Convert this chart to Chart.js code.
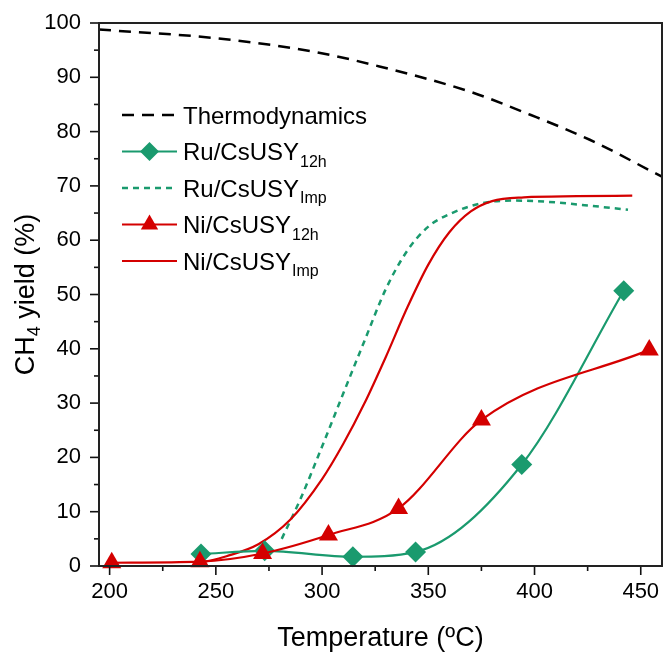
<!DOCTYPE html>
<html>
<head>
<meta charset="utf-8">
<title>CH4 yield vs temperature</title>
<script src="https://cdn.jsdelivr.net/npm/chart.js@4.4.1/dist/chart.umd.min.js"></script>
<style>
  html, body { margin: 0; padding: 0; background: #fff; }
  #wrap { width: 664px; height: 652px; }
</style>
</head>
<body>
<div id="wrap"><canvas id="yieldChart" width="664" height="652"></canvas></div>
<script>
// ===== DATA (temperature in ºC, CH4 yield in %) =====
const thermoT = [195, 250, 296, 327, 370, 398, 426, 457, 460];
const thermoY = [98.8, 97.2, 94.7, 92.0, 87.3, 83.1, 78.5, 72.3, 71.7];

const ru12hT = [243, 273, 314.5, 344, 394, 442];
const ru12hY = [2.2, 2.8, 1.7, 2.6, 18.7, 50.7];

const ruImpT = [281, 290, 300, 310, 320, 330, 340, 350, 360, 375, 390, 405, 425, 444];
const ruImpY = [5.0, 12.5, 22.0, 31.8, 41.5, 51.0, 58.0, 62.5, 64.8, 66.8, 67.3, 67.1, 66.4, 65.6];

const ni12hT = [201, 242.5, 272, 303, 336, 375, 454];
const ni12hY = [0.6, 0.8, 2.3, 5.7, 10.6, 26.9, 39.8];

const niImpT = [242, 255, 270, 285, 300, 310, 320, 330, 340, 350, 360, 370, 380, 395, 420, 446];
const niImpY = [0.5, 1.8, 4.0, 8.5, 16.0, 22.5, 30.0, 38.5, 47.5, 55.5, 61.5, 65.3, 67.2, 67.9, 68.1, 68.2];

const xTickLabels = [200, 250, 300, 350, 400, 450];
const yTickLabels = [0, 10, 20, 30, 40, 50, 60, 70, 80, 90, 100];

const legendNames = ["Thermodynamics", "Ru/CsUSY", "Ru/CsUSY", "Ni/CsUSY", "Ni/CsUSY"];
const legendSubs = ["", "12h", "Imp", "12h", "Imp"];

// ===== STYLE =====
const GREEN = "#1a9a6e";
const RED = "#d40000";
const FONT = '"Liberation Sans", Arial, sans-serif';

const pts = (xs, ys) => xs.map((x, i) => ({ x: x, y: ys[i] }));

// ===== DATASETS =====
const datasets = [
    {
        label: "Thermodynamics",
        data: pts(thermoT, thermoY),
        borderColor: "#000",
        borderWidth: 2.5,
        borderDash: [12, 8],
        pointRadius: 0,
        order: 5
    },
    {
        label: "Ru/CsUSY12h",
        data: pts(ru12hT, ru12hY),
        borderColor: GREEN,
        backgroundColor: GREEN,
        borderWidth: 2.2,
        pointStyle: "rectRot",
        pointRadius: 10.5,
        pointBorderWidth: 0,
        clip: false,
        order: 2
    },
    {
        label: "Ru/CsUSYImp",
        data: pts(ruImpT, ruImpY),
        borderColor: GREEN,
        borderWidth: 2.5,
        borderDash: [6, 5],
        pointRadius: 0,
        order: 4
    },
    {
        label: "Ni/CsUSY12h",
        data: pts(ni12hT, ni12hY),
        borderColor: RED,
        backgroundColor: RED,
        borderWidth: 2.2,
        pointStyle: "triangle",
        pointRadius: 11,
        pointBorderWidth: 0,
        clip: false,
        order: 1
    },
    {
        label: "Ni/CsUSYImp",
        data: pts(niImpT, niImpY),
        borderColor: RED,
        borderWidth: 2.2,
        pointRadius: 0,
        order: 3
    }
];

// ===== AXIS DECORATION: frame, major/minor ticks, x labels, titles, legend =====
const decor = {
    id: "decor",
    afterDraw(chart) {
        const { ctx, chartArea: a, scales: { x, y } } = chart;
        ctx.save();

        // tick marks (outward, left and bottom)
        ctx.strokeStyle = "#111";
        ctx.lineWidth = 1.6;
        for (let v = 0; v <= 100; v += 5) {
            const py = y.getPixelForValue(v);
            const len = yTickLabels.includes(v) ? 9 : 5;
            ctx.beginPath();
            ctx.moveTo(a.left - len, py);
            ctx.lineTo(a.left, py);
            ctx.stroke();
        }
        for (let v = 200; v <= 450; v += 25) {
            const px = x.getPixelForValue(v);
            const len = xTickLabels.includes(v) ? 9 : 5;
            ctx.beginPath();
            ctx.moveTo(px, a.bottom);
            ctx.lineTo(px, a.bottom + len);
            ctx.stroke();
        }

        // plot frame
        ctx.strokeStyle = "#222";
        ctx.lineWidth = 2;
        ctx.strokeRect(a.left, a.top, a.right - a.left, a.bottom - a.top);

        // x tick labels
        ctx.fillStyle = "#000";
        ctx.font = "22px " + FONT;
        ctx.textAlign = "center";
        ctx.textBaseline = "alphabetic";
        xTickLabels.forEach(v => {
            ctx.fillText(String(v), x.getPixelForValue(v), a.bottom + 32);
        });

        // x title
        ctx.font = "27px " + FONT;
        ctx.fillText("Temperature (ºC)", (a.left + a.right) / 2, 646);

        // y title with subscript
        ctx.save();
        ctx.translate(24, (a.top + a.bottom) / 2);
        ctx.rotate(-Math.PI / 2);
        ctx.textAlign = "left";
        ctx.font = "27px " + FONT;
        const wCH = ctx.measureText("CH").width;
        const wRest = ctx.measureText(" yield (%)").width;
        ctx.font = "18px " + FONT;
        const w4 = ctx.measureText("4").width;
        const sx = -(wCH + w4 + wRest) / 2;
        ctx.font = "27px " + FONT;
        ctx.fillText("CH", sx, 9.5);
        ctx.font = "18px " + FONT;
        ctx.fillText("4", sx + wCH, 16);
        ctx.font = "27px " + FONT;
        ctx.fillText(" yield (%)", sx + wCH + w4, 9.5);
        ctx.restore();

        // legend
        const rowY0 = a.top + 92;
        const rowGap = 36.5;
        const lineX0 = a.left + 23, lineX1 = a.left + 78, textX = a.left + 84;
        datasets.forEach((ds, i) => {
            const ry = rowY0 + i * rowGap;
            ctx.save();
            ctx.strokeStyle = ds.borderColor;
            ctx.lineWidth = ds.borderWidth;
            ctx.setLineDash(ds.borderDash || []);
            ctx.beginPath();
            ctx.moveTo(lineX0, ry);
            ctx.lineTo(lineX1, ry);
            ctx.stroke();
            ctx.restore();
            if (ds.pointRadius > 0) {
                ctx.fillStyle = ds.backgroundColor;
                ctx.strokeStyle = ds.backgroundColor;
                Chart.helpers.drawPoint(ctx, {
                    pointStyle: ds.pointStyle,
                    radius: ds.pointRadius - 1,
                    borderWidth: 0,
                    rotation: 0
                }, (lineX0 + lineX1) / 2, ry);
            }
            ctx.fillStyle = "#000";
            ctx.textAlign = "left";
            ctx.font = "24px " + FONT;
            ctx.fillText(legendNames[i], textX, ry + 8.5);
            if (legendSubs[i]) {
                const w = ctx.measureText(legendNames[i]).width;
                ctx.font = "16px " + FONT;
                ctx.fillText(legendSubs[i], textX + w + 1, ry + 15);
            }
        });

        ctx.restore();
    }
};

// ===== CHART =====
const ctx = document.getElementById("yieldChart").getContext("2d");
new Chart(ctx, {
    type: "line",
    data: { datasets: datasets },
    options: {
        responsive: false,
        animation: false,
        layout: { autoPadding: false, padding: { top: 23, right: 2, left: 0, bottom: 0 } },
        elements: { line: { cubicInterpolationMode: "monotone" } },
        plugins: {
            legend: { display: false },
            tooltip: { enabled: false }
        },
        scales: {
            x: {
                type: "linear",
                min: 195,
                max: 460,
                afterFit: (s) => { s.height = 86; },
                grid: { display: false, drawTicks: false },
                border: { display: false },
                ticks: { display: false }
            },
            y: {
                min: 0,
                max: 100,
                afterFit: (s) => { s.width = 99; s.paddingTop = 0; s.paddingBottom = 0; },
                afterBuildTicks: (s) => { s.ticks = yTickLabels.map(v => ({ value: v })); },
                grid: { display: false, drawTicks: false },
                border: { display: false },
                ticks: {
                    color: "#000",
                    font: { family: FONT, size: 22 },
                    padding: 18
                }
            }
        }
    },
    plugins: [decor]
});
</script>
</body>
</html>
